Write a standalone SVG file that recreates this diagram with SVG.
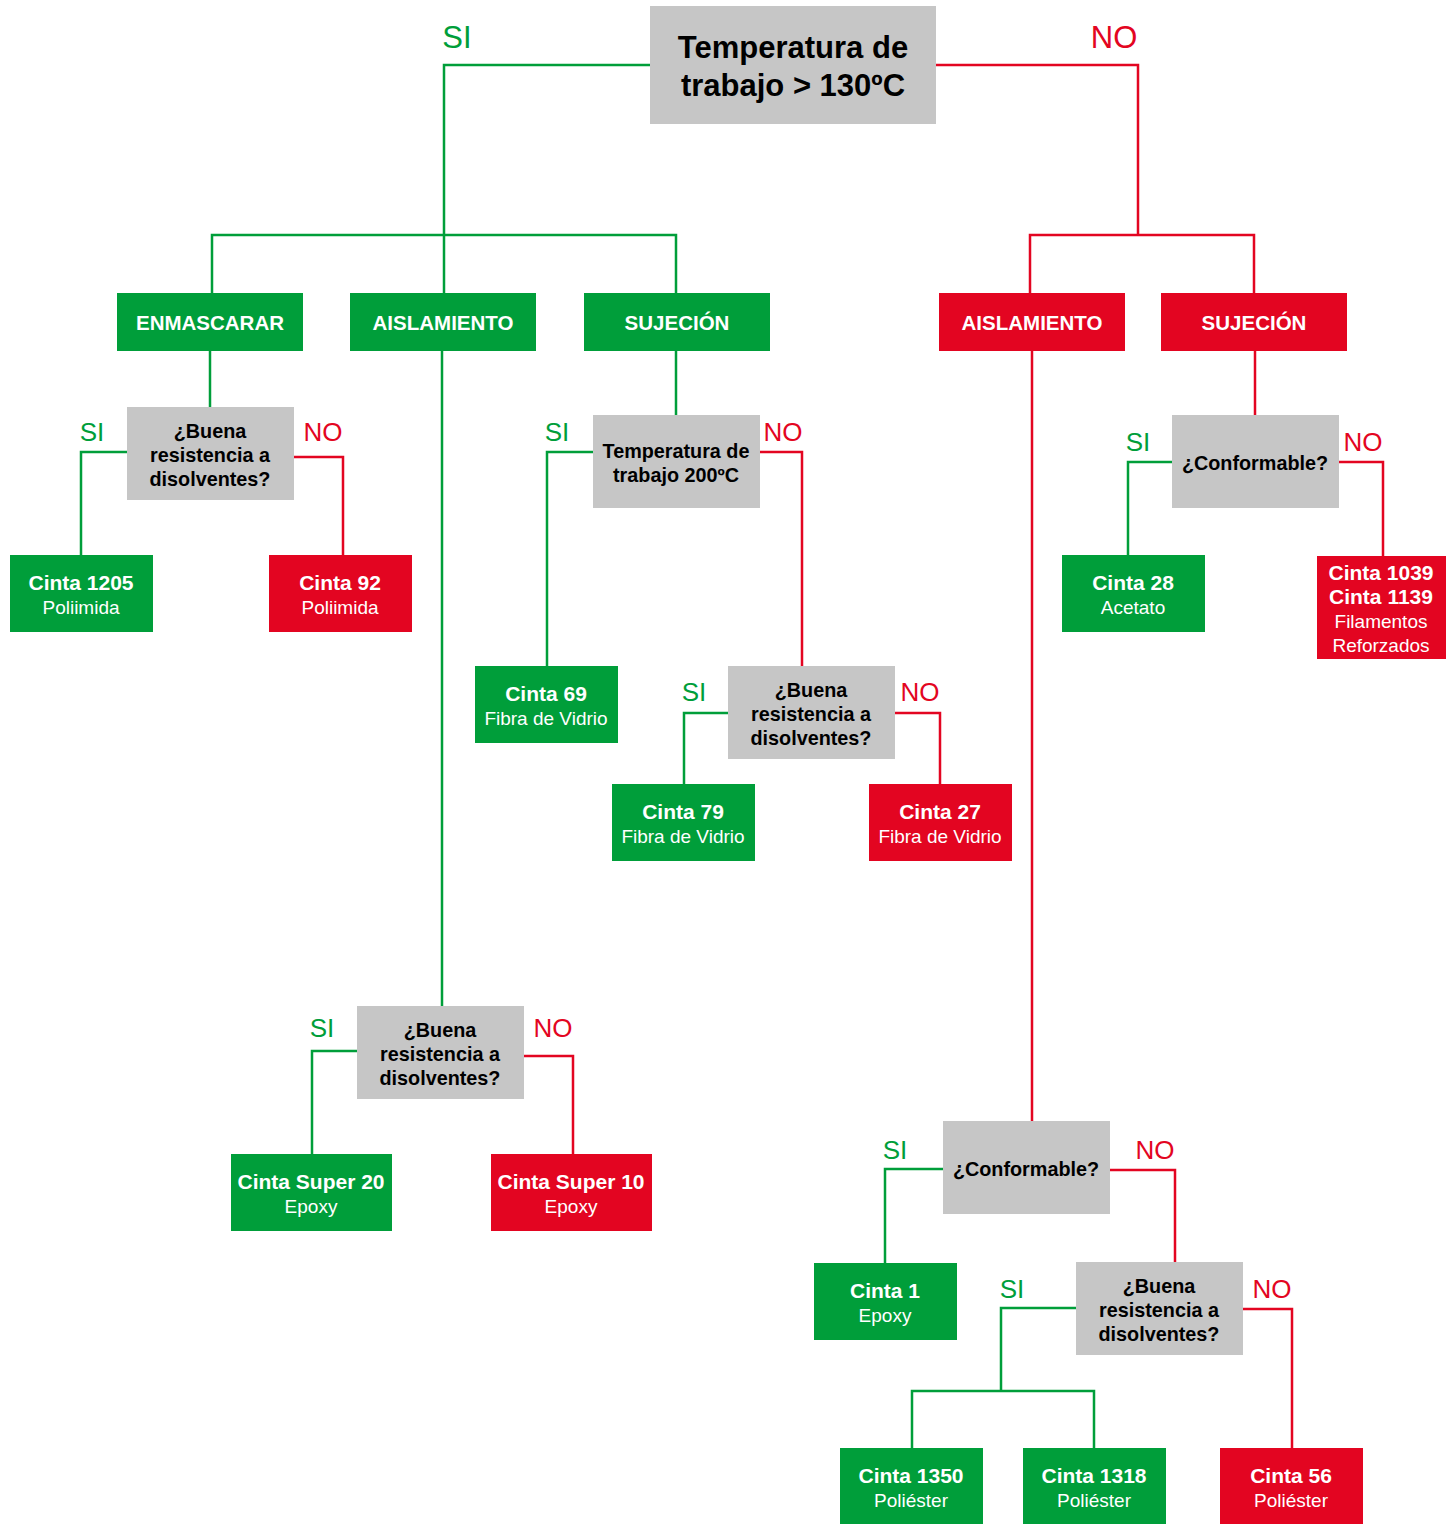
<svg xmlns="http://www.w3.org/2000/svg" width="1448" height="1524" viewBox="0 0 1448 1524">
<style>
.g{fill:#009E3A}.r{fill:#E30521}.q{fill:#C6C6C6}
.lg{fill:none;stroke:#009E3A;stroke-width:2.5}
.lr{fill:none;stroke:#E30521;stroke-width:2.5}
text{font-family:"Liberation Sans",Arial,sans-serif;text-anchor:middle}
.h{font-weight:bold;font-size:20.5px;fill:#fff}
.t{font-weight:bold;font-size:21px;fill:#fff}
.s{font-size:19px;fill:#fff}
.d{font-weight:bold;font-size:19.8px;fill:#000}
.sl{font-size:26px;fill:#009E3A}
.nl{font-size:26px;fill:#E30521}
</style>
<rect width="1448" height="1524" fill="#fff"/>
<g id="connectors">
<polyline class="lg" points="650,65 444,65 444,235"/>
<polyline class="lg" points="212,293 212,235 676,235 676,293"/>
<line class="lg" x1="444" y1="235" x2="444" y2="293"/>
<polyline class="lr" points="936,65 1138,65 1138,235"/>
<polyline class="lr" points="1030,293 1030,235 1254,235 1254,293"/>
<line class="lg" x1="210" y1="351" x2="210" y2="407"/>
<polyline class="lg" points="127,452 81,452 81,555"/>
<polyline class="lr" points="293,457 343,457 343,555"/>
<line class="lg" x1="442" y1="351" x2="442" y2="1006"/>
<polyline class="lg" points="357,1051 312,1051 312,1154"/>
<polyline class="lr" points="523,1056 573,1056 573,1154"/>
<line class="lg" x1="676" y1="351" x2="676" y2="415"/>
<polyline class="lg" points="593,452 547,452 547,666"/>
<polyline class="lr" points="759,452 802,452 802,666"/>
<polyline class="lg" points="728,713 684,713 684,784"/>
<polyline class="lr" points="894,713 940,713 940,784"/>
<line class="lr" x1="1032" y1="351" x2="1032" y2="1121"/>
<polyline class="lg" points="943,1169 885,1169 885,1263"/>
<polyline class="lr" points="1109,1170 1175,1170 1175,1262"/>
<polyline class="lg" points="1076,1308 1001,1308 1001,1391"/>
<polyline class="lg" points="912,1448 912,1391 1094,1391 1094,1448"/>
<polyline class="lr" points="1242,1309 1292,1309 1292,1448"/>
<line class="lr" x1="1255" y1="351" x2="1255" y2="415"/>
<polyline class="lg" points="1172,462 1128,462 1128,555"/>
<polyline class="lr" points="1338,462 1383,462 1383,556"/>
</g>
<g id="labels">
<text class="sl" x="457" y="48" style="font-size:31px">SI</text>
<text class="nl" x="1114" y="48" style="font-size:31px">NO</text>
<text class="sl" x="92" y="441">SI</text>
<text class="nl" x="323" y="441">NO</text>
<text class="sl" x="557" y="441">SI</text>
<text class="nl" x="783" y="441">NO</text>
<text class="sl" x="694" y="701">SI</text>
<text class="nl" x="920" y="701">NO</text>
<text class="sl" x="322" y="1037">SI</text>
<text class="nl" x="553" y="1037">NO</text>
<text class="sl" x="895" y="1159">SI</text>
<text class="nl" x="1155" y="1159">NO</text>
<text class="sl" x="1012" y="1298">SI</text>
<text class="nl" x="1272" y="1298">NO</text>
<text class="sl" x="1138" y="451">SI</text>
<text class="nl" x="1363" y="451">NO</text>
</g>
<g id="root"><rect class="q" x="650" y="6" width="286" height="118"/>
<text x="793" y="58" style="font-weight:bold;font-size:31px">Temperatura de</text>
<text x="793" y="96" style="font-weight:bold;font-size:31px">trabajo &gt; 130ºC</text></g>
<g id="enmascarar"><rect class="g" x="117" y="293" width="186" height="58"/><text class="h" x="210" y="330">ENMASCARAR</text></g>
<g id="aislamiento-si"><rect class="g" x="350" y="293" width="186" height="58"/><text class="h" x="443" y="330">AISLAMIENTO</text></g>
<g id="sujecion-si"><rect class="g" x="584" y="293" width="186" height="58"/><text class="h" x="677" y="330">SUJECIÓN</text></g>
<g id="aislamiento-no"><rect class="r" x="939" y="293" width="186" height="58"/><text class="h" x="1032" y="330">AISLAMIENTO</text></g>
<g id="sujecion-no"><rect class="r" x="1161" y="293" width="186" height="58"/><text class="h" x="1254" y="330">SUJECIÓN</text></g>

<g id="q-enm"><rect class="q" x="127" y="407" width="167" height="93"/>
<text class="d" x="210" y="438">¿Buena</text><text class="d" x="210" y="462">resistencia a</text><text class="d" x="210" y="486">disolventes?</text></g>
<g id="c1205"><rect class="g" x="10" y="555" width="143" height="77"/><text class="t" x="81" y="590">Cinta 1205</text><text class="s" x="81" y="614">Poliimida</text></g>
<g id="c92"><rect class="r" x="269" y="555" width="143" height="77"/><text class="t" x="340" y="590">Cinta 92</text><text class="s" x="340" y="614">Poliimida</text></g>

<g id="q-ais"><rect class="q" x="357" y="1006" width="167" height="93"/>
<text class="d" x="440" y="1037">¿Buena</text><text class="d" x="440" y="1061">resistencia a</text><text class="d" x="440" y="1085">disolventes?</text></g>
<g id="csuper20"><rect class="g" x="231" y="1154" width="161" height="77"/><text class="t" x="311" y="1189">Cinta Super 20</text><text class="s" x="311" y="1213">Epoxy</text></g>
<g id="csuper10"><rect class="r" x="491" y="1154" width="161" height="77"/><text class="t" x="571" y="1189">Cinta Super 10</text><text class="s" x="571" y="1213">Epoxy</text></g>

<g id="q-temp200"><rect class="q" x="593" y="415" width="167" height="93"/>
<text class="d" x="676" y="458">Temperatura de</text><text class="d" x="676" y="482">trabajo 200ºC</text></g>
<g id="c69"><rect class="g" x="475" y="666" width="143" height="77"/><text class="t" x="546" y="701">Cinta 69</text><text class="s" x="546" y="725">Fibra de Vidrio</text></g>
<g id="q-suj"><rect class="q" x="728" y="666" width="167" height="93"/>
<text class="d" x="811" y="697">¿Buena</text><text class="d" x="811" y="721">resistencia a</text><text class="d" x="811" y="745">disolventes?</text></g>
<g id="c79"><rect class="g" x="612" y="784" width="143" height="77"/><text class="t" x="683" y="819">Cinta 79</text><text class="s" x="683" y="843">Fibra de Vidrio</text></g>
<g id="c27"><rect class="r" x="869" y="784" width="143" height="77"/><text class="t" x="940" y="819">Cinta 27</text><text class="s" x="940" y="843">Fibra de Vidrio</text></g>

<g id="q-conf1"><rect class="q" x="943" y="1121" width="167" height="93"/><text class="d" x="1026" y="1176">¿Conformable?</text></g>
<g id="c1"><rect class="g" x="814" y="1263" width="143" height="77"/><text class="t" x="885" y="1298">Cinta 1</text><text class="s" x="885" y="1322">Epoxy</text></g>
<g id="q-ais-no"><rect class="q" x="1076" y="1262" width="167" height="93"/>
<text class="d" x="1159" y="1293">¿Buena</text><text class="d" x="1159" y="1317">resistencia a</text><text class="d" x="1159" y="1341">disolventes?</text></g>
<g id="c1350"><rect class="g" x="840" y="1448" width="143" height="76"/><text class="t" x="911" y="1483">Cinta 1350</text><text class="s" x="911" y="1507">Poliéster</text></g>
<g id="c1318"><rect class="g" x="1023" y="1448" width="143" height="76"/><text class="t" x="1094" y="1483">Cinta 1318</text><text class="s" x="1094" y="1507">Poliéster</text></g>
<g id="c56"><rect class="r" x="1220" y="1448" width="143" height="76"/><text class="t" x="1291" y="1483">Cinta 56</text><text class="s" x="1291" y="1507">Poliéster</text></g>

<g id="q-conf2"><rect class="q" x="1172" y="415" width="167" height="93"/><text class="d" x="1255" y="470">¿Conformable?</text></g>
<g id="c28"><rect class="g" x="1062" y="555" width="143" height="77"/><text class="t" x="1133" y="590">Cinta 28</text><text class="s" x="1133" y="614">Acetato</text></g>
<g id="c1039"><rect class="r" x="1317" y="556" width="129" height="103"/><text class="t" x="1381" y="580">Cinta 1039</text><text class="t" x="1381" y="604">Cinta 1139</text><text class="s" x="1381" y="628">Filamentos</text><text class="s" x="1381" y="652">Reforzados</text></g>
</svg>
